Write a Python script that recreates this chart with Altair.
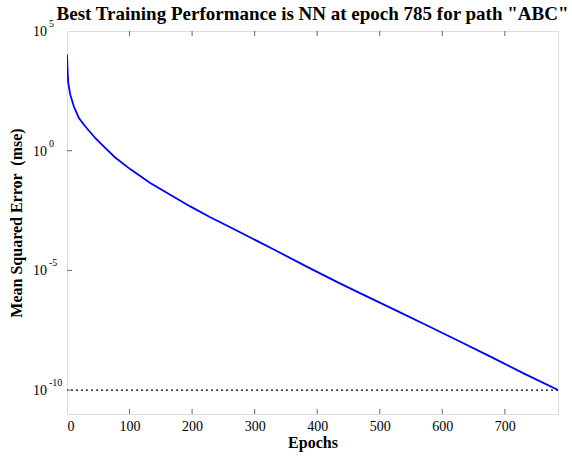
import altair as alt
import pandas as pd

# Training curve (epoch, mean squared error)
epochs = [0, 1, 2, 5, 11, 19, 29, 45, 61, 77, 101, 133, 165, 197, 229, 261,
          290, 330, 384, 437, 490, 530, 570, 624, 677, 730, 785]
mse = [1.05e4, 2.0e3, 7.0e2, 2.3e2, 70, 23, 10.5, 3.4, 1.3, 0.52, 0.17,
       0.045, 0.0145, 4.7e-3, 1.65e-3, 6.3e-4, 2.6e-4, 7.6e-5, 1.4e-5,
       2.8e-6, 6.0e-7, 1.9e-7, 5.9e-8, 1.2e-8, 2.5e-9, 5.0e-10, 1.0e-10]

goal = [1e-10]
x_tick_values = [0, 100, 200, 300, 400, 500, 600, 700]
x_inner_ticks = [100, 200, 300, 400, 500, 600, 700]
y_tick_values = [1e5, 1e0, 1e-5, 1e-10]
y_tick_base = ["10", "10", "10", "10"]
y_tick_exp = ["5", "0", "-5", "-10"]
y_inner_ticks = [1e0, 1e-5, 1e-10]
title_text = ['Best Training Performance is NN at epoch 785 for path "ABC"']
y_title = "Mean Squared Error \u00a0(mse)"

W, H = 491, 383
FONT = "Liberation Serif"

curve = pd.DataFrame({"epoch": epochs, "mse": mse})
goal_df = pd.DataFrame({"mse": goal})
ylab = pd.DataFrame({"mse": y_tick_values, "base": y_tick_base, "exp": y_tick_exp})
xt = pd.DataFrame({"epoch": x_inner_ticks})
yt = pd.DataFrame({"mse": y_inner_ticks})
title_df = pd.DataFrame({"t": title_text})

xscale = alt.Scale(domain=[0, 785], nice=False, zero=False)
yscale = alt.Scale(type="log", domain=[1e-11, 1e5], nice=False)

line = alt.Chart(curve).mark_line(color="#0000FF", strokeWidth=1.8, clip=True).encode(
    x=alt.X("epoch:Q", scale=xscale,
            axis=alt.Axis(values=x_tick_values, format="d", title="Epochs",
                          ticks=False, domain=False, grid=False,
                          labelFont=FONT, labelFontSize=14, labelColor="black",
                          labelPadding=5, titleFont=FONT, titleFontSize=16,
                          titleFontWeight="bold", titleColor="black",
                          titlePadding=1)),
    y=alt.Y("mse:Q", scale=yscale,
            axis=alt.Axis(labels=False, ticks=False, domain=False, grid=False,
                          title=y_title, titleFont=FONT,
                          titleFontSize=16, titleFontWeight="bold",
                          titleColor="black", titlePadding=43)),
)

goal_rule = alt.Chart(goal_df).mark_rule(color="black", strokeDash=[2, 3],
                                         strokeWidth=1.2).encode(y="mse:Q")

bottom_ticks = alt.Chart(xt).mark_rule(color="#666").encode(
    x="epoch:Q", y=alt.value(H), y2=alt.value(H - 5))
top_ticks = alt.Chart(xt).mark_rule(color="#666").encode(
    x="epoch:Q", y=alt.value(0), y2=alt.value(5))
left_ticks = alt.Chart(yt).mark_rule(color="#666").encode(
    y="mse:Q", x=alt.value(0), x2=alt.value(5))

base_text = alt.Chart(ylab).mark_text(align="left", baseline="middle", font=FONT,
                                      fontSize=14, color="black", dy=1).encode(
    x=alt.value(-34), y="mse:Q", text="base:N")
exp_text = alt.Chart(ylab).mark_text(align="left", baseline="middle", font=FONT,
                                     fontSize=10, color="black", dy=-7).encode(
    x=alt.value(-18), y="mse:Q", text="exp:N")

title_mark = alt.Chart(title_df).mark_text(
    align="center", baseline="middle", font=FONT, fontSize=19,
    fontWeight="bold", color="black").encode(
    x=alt.value(W / 2), y=alt.value(-17), text="t:N")

chart = alt.layer(goal_rule, line, bottom_ticks, top_ticks, left_ticks,
                  base_text, exp_text, title_mark).properties(
    width=W, height=H,
    autosize="none",
    padding={"left": 67, "top": 31, "right": 14, "bottom": 42},
).configure_view(stroke="#606060", strokeWidth=1.5).configure(background="white")

chart.save("out.html", embed_options={"renderer": "svg", "actions": False})
